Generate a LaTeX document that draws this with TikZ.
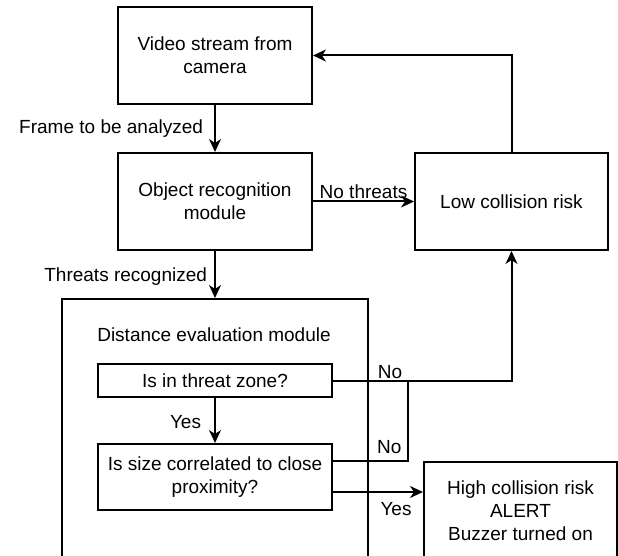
\documentclass[tikz,border=0pt]{standalone}
\usepackage{fontspec}
\setmainfont{Liberation Sans}
\usetikzlibrary{arrows.meta}
\begin{document}
\begin{tikzpicture}[x=1pt,y=-1pt,
  every node/.style={font=\fontsize{19}{23}\selectfont, text=black},
  box/.style={draw, line width=2pt, align=center, inner sep=0pt},
  conn/.style={line width=2pt},
  arr/.style={conn, -{Stealth[length=13pt,width=12pt,inset=4pt]}},
  lbl/.style={inner sep=1pt}]
\path[use as bounding box] (0,0) rectangle (618,556);
\clip (0,0) rectangle (618,556);
\node[box, minimum width=194pt, minimum height=97pt] (video) at (215,55.5) {Video stream from\\camera};
\node[box, minimum width=194pt, minimum height=97pt] (obj) at (215,201.5) {Object recognition\\module};
\node[box, minimum width=193pt, minimum height=97pt] (low) at (511.5,201.5) {Low collision risk};
\node[box, minimum width=306pt, minimum height=264pt] (dist) at (215,431) {};
\node[lbl] (distlbl) at (214,335) {Distance evaluation module};
\node[box, minimum width=234pt, minimum height=33pt] (zone) at (215,380.5) {Is in threat zone?};
\node[box, minimum width=234pt, minimum height=66pt] (size) at (215,477) {Is size correlated to close\\proximity?};
\node[box, minimum width=193pt, minimum height=98pt] (high) at (520.5,511) {High collision risk\\ALERT\\Buzzer turned on};
\coordinate (join) at (408,461);
\draw[arr] (video.south) -- node[lbl, anchor=east, xshift=-10pt] {Frame to be analyzed} (obj.north);
\draw[arr] (obj.east) -- node[lbl, anchor=south, yshift=1pt] {No threats} (low.west);
\draw[arr] (low.north) |- (video.east);
\draw[arr] (obj.south) -- node[lbl, anchor=east, xshift=-6pt, yshift=-2pt] {Threats recognized} (dist.north);
\draw[arr] (zone.south) -- node[lbl, anchor=east, xshift=-12pt, yshift=-2pt] {Yes} (size.north);
\draw[arr] (zone.east) -| node[lbl, pos=0.16, anchor=south, yshift=0pt] {No} (low.south);
\draw[conn] ([yshift=16pt]size.east) -- node[lbl, pos=0.75, anchor=south, yshift=5pt] {No} (join) -- (join |- zone.east);
\draw[arr] ([yshift=-15pt]size.east) -- node[lbl, pos=0.7, anchor=north, yshift=-8pt] {Yes} ([yshift=-15pt]size.east -| high.west);
\end{tikzpicture}
\end{document}
